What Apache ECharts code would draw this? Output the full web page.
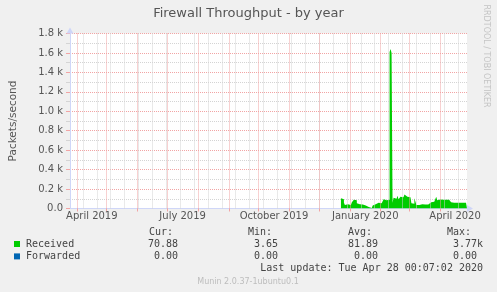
<!DOCTYPE html>
<html>
<head>
<meta charset="utf-8">
<script src="https://cdn.jsdelivr.net/npm/echarts@6/dist/echarts.min.js"></script>
<style>
html,body{margin:0;padding:0;background:#f0f0f0;}
#chart{width:497px;height:292px;}
</style>
</head>
<body>
<div id="chart"></div>
<script>
// ---------- data ----------
const titleText = 'Firewall Throughput - by year';
const yAxisName = 'Packets/second';
const seriesNames = ['Received', 'Forwarded'];
const seriesColors = ['#00CC00', '#0066B3'];
const dataStart = [2019, 11, 23]; // 2019-12-23, one value per day
const receivedValues = [
  105,100,95,60,
  35,30,45,50,40,35,55,
  65,70,
  90,95,85,
  55,50,45,50,45,40,45,
  35,30,25,20,15,
  8,6,5,7,
  30,40,45,40,
  55,60,50,75,55,60,70,
  95,100,85,105,80,90,
  1610,1640,
  1600,60,
  110,125,100,115,130,95,105,120,140,115,125,145,
  125,120,110,130,115,100,
  55,60,50,
  105,95,
  35,30,35,
  50,55,45,50,48,
  40,42,38,40,45,
  60,65,62,60,70,
  85,90,120,85,
  90,92,95,88,90,95,92,90,88,85,90,92,88,
  65,62,60,65,63,60,62,65,60,58,62,60,63,60,58,55,
  55
];
const forwardedValues = [
  0,0,0,0,0,0,0,0,0,0,0,0,0,0,0,0,
  0,0,0,0,0,0,0,0,0,0,0,0,0,0,0,0,
  0,0,0,0,0,0,0,0,0,0,0,0,0,0,0,0,
  0,0,0,0,0,0,0,0,0,0,0,0,0,0,0,0,
  0,0,0,0,0,0,0,0,0,0,0,0,0,0,0,0,
  0,0,0,0,0,0,0,0,0,0,0,0,0,0,0,0,
  0,0,0,0,0,0,0,0,0,0,0,0,0,0,0,0,
  0,0,0,0,0,0,0,0,0,0,0,0,0,0,0,0
];
const xRange = [[2019, 2, 25], [2020, 3, 28]];
const monthLabels = [
  {y: 2019, m: 3, text: 'April 2019'},
  {y: 2019, m: 6, text: 'July 2019'},
  {y: 2019, m: 9, text: 'October 2019'},
  {y: 2020, m: 0, text: 'January 2020'},
  {y: 2020, m: 3, text: 'April 2020'}
];
const yTicks = [0, 200, 400, 600, 800, 1000, 1200, 1400, 1600, 1800];
const statHeaders = ['Cur:', 'Min:', 'Avg:', 'Max:'];
const receivedStats = ['70.88', '3.65', '81.89', '3.77k'];
const forwardedStats = ['0.00', '0.00', '0.00', '0.00'];
const lastUpdate = 'Last update: Tue Apr 28 00:07:02 2020';
const footerText = 'Munin 2.0.37-1ubuntu0.1';
const sideText = 'RRDTOOL / TOBI OETIKER';

// ---------- build ----------
const DAY = 86400000;
const t0 = Date.UTC(dataStart[0], dataStart[1], dataStart[2]);
const receivedData = receivedValues.map((v, i) => [t0 + i * DAY, v]);
const forwardedData = forwardedValues.map((v, i) => [t0 + i * DAY, v]);
const xMin = Date.UTC(...xRange[0]);
const xMax = Date.UTC(...xRange[1]);

const monthStarts = [];
for (let y = 2019, m = 3; ; ) {
  const t = Date.UTC(y, m, 1);
  if (t > xMax) break;
  monthStarts.push(t);
  m++; if (m > 11) { m = 0; y++; }
}
const labelPos = monthLabels.map(l => (Date.UTC(l.y, l.m, 1) + Date.UTC(l.y, l.m + 1, 1)) / 2);
const biweekly = [];
for (let t = Date.UTC(2019, 3, 7); t <= xMax; t += 14 * DAY) biweekly.push(t);

const majorColor = '#f2a4a4';
const minorColor = '#d4d4d4';

const markData = [];
biweekly.forEach(t => markData.push({xAxis: t, lineStyle: {color: minorColor, type: [1, 1], width: 1}}));
monthStarts.forEach(t => markData.push({xAxis: t, lineStyle: {color: majorColor, type: [1, 1], width: 1}}));

const mono = 'DejaVu Sans Mono';
const textColor = '#444';
const colLeft = [149, 248, 348, 447];
const colRight = [178, 278, 378, 477];
const graphics = [];
statHeaders.forEach((h, i) => graphics.push({type: 'text', x: colLeft[i], y: 232.3,
  style: {text: h, font: '10px "' + mono + '"', fill: textColor, align: 'left', verticalAlign: 'middle'}}));
function valX(i, s) { return colRight[i] + (/[a-zA-Z]$/.test(s) ? 6 : 0); }
receivedStats.forEach((s, i) => graphics.push({type: 'text', x: valX(i, s), y: 244.3,
  style: {text: s, font: '10px "' + mono + '"', fill: textColor, align: 'right', verticalAlign: 'middle'}}));
forwardedStats.forEach((s, i) => graphics.push({type: 'text', x: valX(i, s), y: 256.7,
  style: {text: s, font: '10px "' + mono + '"', fill: textColor, align: 'right', verticalAlign: 'middle'}}));
graphics.push({type: 'text', x: 483, y: 268.3,
  style: {text: lastUpdate, font: '10px "' + mono + '"', fill: textColor, align: 'right', verticalAlign: 'middle'}});
graphics.push({type: 'text', x: 248, y: 281.7,
  style: {text: footerText, font: '8px "DejaVu Sans"', fill: '#bdbdbd', align: 'center', verticalAlign: 'middle'}});
graphics.push({type: 'text', x: 486, y: 56, rotation: -Math.PI / 2,
  style: {text: sideText, font: '8px "DejaVu Sans"', fill: '#c4c4c4', align: 'center', verticalAlign: 'middle'}});

const chart = echarts.init(document.getElementById('chart'), null, {renderer: 'canvas'});
const option = {
  animation: false,
  backgroundColor: '#f0f0f0',
  title: {
    text: titleText, left: 'center', top: 7, padding: 0,
    textStyle: {fontFamily: 'DejaVu Sans', fontSize: 13, fontWeight: 'normal', color: '#555'}
  },
  legend: {
    data: seriesNames, orient: 'vertical', left: 14, top: 238, padding: 0,
    itemWidth: 6, itemHeight: 6, itemGap: 0.4, icon: 'rect', selectedMode: false,
    itemStyle: {borderWidth: 0},
    textStyle: {fontFamily: mono, fontSize: 10, color: textColor, lineHeight: 12, padding: [0, 0, 0, 1]}
  },
  grid: {left: 67, right: 30, top: 33.5, bottom: 83.5, show: true, backgroundColor: '#ffffff', borderWidth: 0},
  xAxis: {
    type: 'value', min: xMin, max: xMax,
    axisLine: {show: true, onZero: false, lineStyle: {color: '#CFD6F8', width: 1},
      symbol: ['none', 'triangle'], symbolSize: [7, 6], symbolOffset: [0, 3]},
    axisTick: {show: true, customValues: monthStarts, length: 3, lineStyle: {color: majorColor}},
    axisLabel: {
      customValues: labelPos,
      formatter: v => { const i = labelPos.indexOf(v); return i >= 0 ? monthLabels[i].text : ''; },
      fontFamily: 'DejaVu Sans', fontSize: 10, color: '#555', margin: 3
    },
    splitLine: {show: false}
  },
  yAxis: {
    type: 'value', min: 0, max: 1800, interval: 200,
    name: yAxisName, nameLocation: 'middle', nameGap: 51,
    nameTextStyle: {fontFamily: 'DejaVu Sans', fontSize: 10.5, color: '#555'},
    axisLine: {show: true, onZero: false, lineStyle: {color: '#CFD6F8', width: 1},
      symbol: ['none', 'triangle'], symbolSize: [7, 6], symbolOffset: [0, 3]},
    axisTick: {show: true, length: 4, lineStyle: {color: majorColor}},
    minorTick: {show: true, splitNumber: 2, length: 4, lineStyle: {color: minorColor}},
    axisLabel: {
      formatter: v => yTicks.indexOf(v) >= 0 ? (v === 0 ? '0.0' : (v / 1000).toFixed(1) + ' k') : '',
      fontFamily: 'DejaVu Sans', fontSize: 10, color: '#555', margin: 7
    },
    splitLine: {show: true, lineStyle: {color: majorColor, type: [1, 1]}},
    minorSplitLine: {show: true, lineStyle: {color: minorColor, type: [1, 1]}}
  },
  series: [
    {
      name: 'gridlines', type: 'line', data: [], silent: true, z: 1,
      markLine: {silent: true, symbol: ['none', 'none'], label: {show: false}, animation: false, data: markData}
    },
    {
      name: seriesNames[0], type: 'line', step: 'end', data: receivedData, z: 3,
      symbol: 'none', showSymbol: false,
      itemStyle: {color: seriesColors[0]},
      lineStyle: {width: 0, color: seriesColors[0]},
      areaStyle: {color: seriesColors[0], opacity: 1}
    },
    {
      name: seriesNames[1], type: 'line', data: forwardedData, z: -1,
      symbol: 'none', showSymbol: false,
      itemStyle: {color: seriesColors[1]},
      lineStyle: {width: 1, color: seriesColors[1]}
    }
  ],
  graphic: graphics
};
chart.setOption(option);
</script>
</body>
</html>
